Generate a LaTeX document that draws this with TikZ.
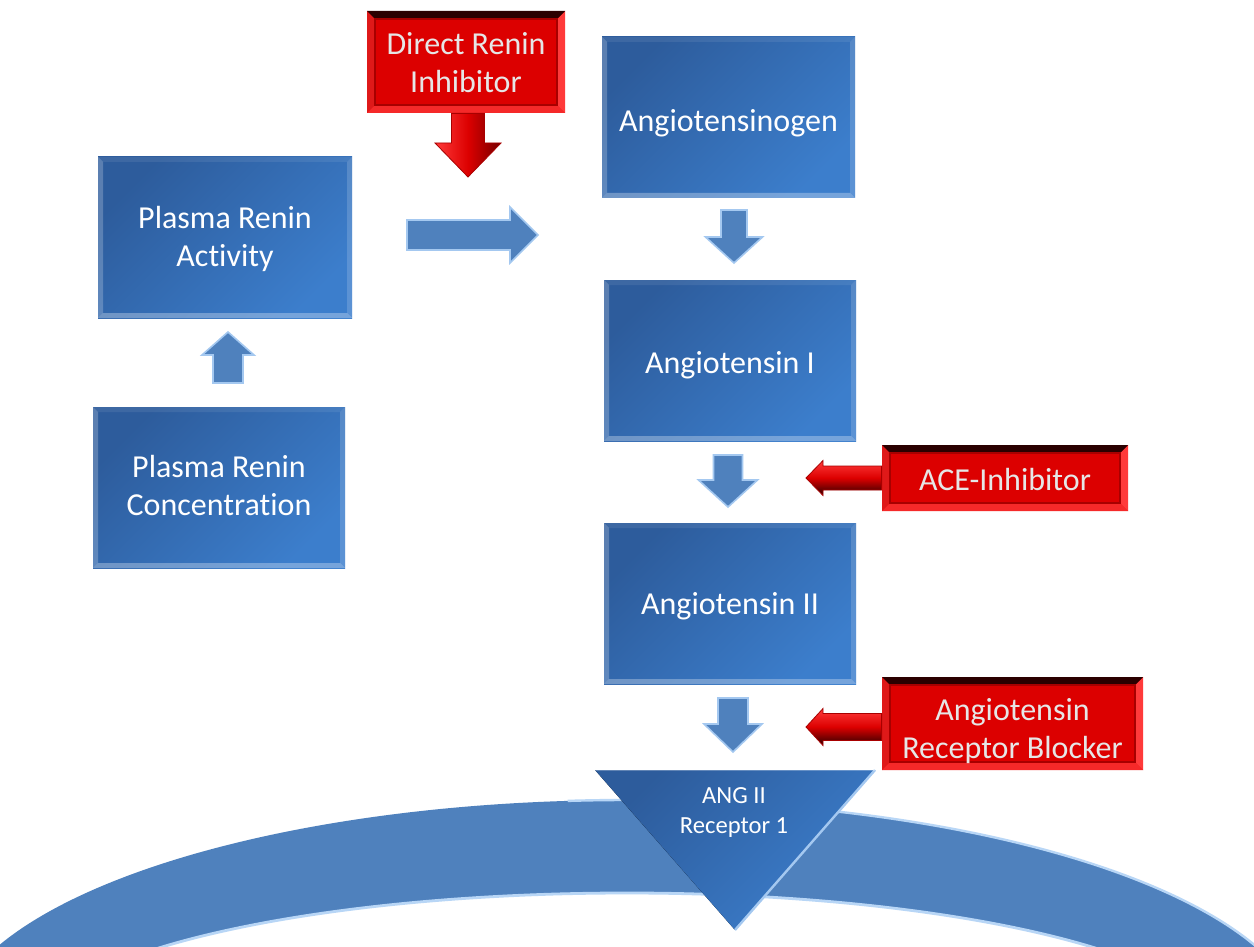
\documentclass[tikz,border=0pt]{standalone}
\usepackage{fontspec}
\setmainfont{Carlito}[Ligatures={NoCommon}]
\usetikzlibrary{calc}
\definecolor{boxdark}{HTML}{2D5C9C}
\definecolor{boxlight}{HTML}{3C7ECC}
\definecolor{arrowblue}{HTML}{4F81BD}
\definecolor{arrowedge}{HTML}{A4C8F0}
\definecolor{bandblue}{HTML}{4F81BD}
\definecolor{bandedge}{HTML}{B8D6F6}
\definecolor{redmain}{HTML}{DC0000}
\definecolor{reddark}{HTML}{2A0000}
\definecolor{redlight}{HTML}{FF3A3A}
\definecolor{redline}{HTML}{A80000}
\definecolor{redtext}{HTML}{E6E6E6}

% block arrow: #1 style, #2 tail, #3 tip, #4 shaft half width, #5 head half width, #6 head length
\newcommand\blockarrow[6]{%
  \coordinate (ba-h) at ($(#3)!#6!(#2)$);
  \path[#1] ($(#2)!#4!90:(#3)$) -- ($(ba-h)!#4!90:(#3)$) -- ($(ba-h)!#5!90:(#3)$) -- (#3)
    -- ($(ba-h)!#5!-90:(#3)$) -- ($(ba-h)!#4!-90:(#3)$) -- ($(#2)!#4!-90:(#3)$) -- cycle;
}
% bevel inside a path picture: #1 width, #2 left, #3 bottom, #4 right, #5 top
\newcommand\mybevel[5]{%
  \coordinate (bnw) at (path picture bounding box.north west);
  \coordinate (bne) at (path picture bounding box.north east);
  \coordinate (bsw) at (path picture bounding box.south west);
  \coordinate (bse) at (path picture bounding box.south east);
  \coordinate (inw) at ([shift={(#1,-#1)}]bnw);
  \coordinate (ine) at ([shift={(-#1,-#1)}]bne);
  \coordinate (isw) at ([shift={(#1,#1)}]bsw);
  \coordinate (ise) at ([shift={(-#1,#1)}]bse);
  \fill[#2] (bnw)--(inw)--(isw)--(bsw)--cycle;
  \fill[#3] (bsw)--(isw)--(ise)--(bse)--cycle;
  \fill[#4] (bse)--(ise)--(ine)--(bne)--cycle;
  \fill[#5] (bne)--(ine)--(inw)--(bnw)--cycle;
}
% lowered centred text block (keeps its box size, so the node does not re-centre it)
\newcommand\lowtxt[2]{\raisebox{-#1}[\height][\depth]{\begin{tabular}{@{}c@{}}#2\end{tabular}}}

\tikzset{
  bluebox/.style={rectangle, inner sep=0pt, top color=boxdark, bottom color=boxlight,
    shading angle=45, text=white, font=\fontsize{16}{19}\selectfont,
    minimum width=126.5pt, minimum height=80.5pt,
    path picture={\mybevel{2.5pt}{white,opacity=0.22}{white,opacity=0.3}{white,opacity=0.16}{white,opacity=0.08}}},
  redbox/.style={rectangle, inner sep=0pt, fill=redmain, text=redtext,
    font=\fontsize{16}{19}\selectfont,
    path picture={\mybevel{4pt}{redmain!90!white}{redlight!70!redmain}{redlight}{reddark}
      \draw[redline, line width=0.6pt] (inw) rectangle (ise);}},
  bluearrow/.style={fill=arrowblue, draw=arrowedge, line width=0.8pt, line join=miter},
  redarrowh/.style={top color=redlight, bottom color=reddark, middle color=redmain, draw=redline, line width=0.4pt},
  redarrowv/.style={left color=redlight, right color=redline!70!black, middle color=redmain, draw=redline, line width=0.4pt},
  receptor/.style={text=white, align=center, font=\fontsize{12.3}{15}\selectfont, inner sep=0pt}
}

\begin{document}
\begin{tikzpicture}[x=0.5pt, y=-0.5pt]
\useasboundingbox (0,0) rectangle (1254,947);
\fill[white] (0,0) rectangle (1254,947);

% membrane band
\begin{scope}
  \clip (0,0) rectangle (1254,947);
  \fill[bandblue, even odd rule] (627,1036) ellipse [x radius=340pt, y radius=118pt]
                                 (627,1036) ellipse [x radius=297pt, y radius=71.5pt];
  \draw[bandedge, line width=1.4pt] (627,1036) ellipse [x radius=297pt, y radius=71.5pt];
  \draw[bandedge, line width=1.2pt] (627,1036) ++(95:340pt and 118pt)
      arc [start angle=95, end angle=-10, x radius=340pt, y radius=118pt];
\end{scope}

% blue boxes
\node[bluebox, minimum width=127pt] (pra) at (225,237.5) {\lowtxt{1pt}{Plasma Renin\\Activity}};
\node[bluebox, minimum width=126pt] (prc) at (219,487.5) {\lowtxt{0.5pt}{Plasma Renin\\Concentration}};
\node[bluebox] (agen) at (728.5,117.5) {\lowtxt{3pt}{Angiotensinogen}};
\node[bluebox, minimum width=126pt] (ang1) at (730,360.5) {\lowtxt{2.5pt}{Angiotensin I}};
\node[bluebox, minimum width=126pt] (ang2) at (730,603.5) {\lowtxt{1.5pt}{Angiotensin II}};

% red boxes
\node[redbox, minimum width=99pt, minimum height=51pt] (dri) at (466,62) {\lowtxt{2pt}{Direct Renin\\Inhibitor}};
\node[redbox, minimum width=123pt, minimum height=33pt] (ace) at (1005,478) {\lowtxt{2.5pt}{ACE-Inhibitor}};
\node[redbox, minimum width=130.5pt, minimum height=46.5pt] (arb) at (1012.5,723.5) {\lowtxt{4pt}{Angiotensin\\Receptor Blocker}};

% receptor triangle
\coordinate (trl) at (595,770);
\coordinate (trr) at (875,770);
\coordinate (trt) at (735,930);
\fill[top color=boxdark, bottom color=boxlight, shading angle=45] (trl) -- (trr) -- (trt) -- cycle;
\draw[arrowedge, line width=1.2pt] (trr) -- (trt);
\draw[white, opacity=0.25, line width=0.6pt] (trl) -- (trr);
\node[receptor] (rec) at (734,812) {ANG II\\Receptor 1};

% blue block arrows
\coordinate (a1t) at (228,383); \coordinate (a1h) at (228,332);
\blockarrow{bluearrow}{a1t}{a1h}{7.5pt}{13pt}{11.5pt}
\coordinate (a2t) at (407,235); \coordinate (a2h) at (538,235);
\blockarrow{bluearrow}{a2t}{a2h}{7.5pt}{14pt}{14pt}
\coordinate (a3t) at (734,210); \coordinate (a3h) at (734,263);
\blockarrow{bluearrow}{a3t}{a3h}{6.5pt}{14.25pt}{13pt}
\coordinate (a4t) at (728,455); \coordinate (a4h) at (728,507);
\blockarrow{bluearrow}{a4t}{a4h}{7.25pt}{14.75pt}{13.5pt}
\coordinate (a5t) at (733,698); \coordinate (a5h) at (733,752);
\blockarrow{bluearrow}{a5t}{a5h}{7.5pt}{14.5pt}{14pt}

% red block arrows
\coordinate (r1h) at (468,177);
\coordinate (r1t) at (dri.south -| r1h);
\blockarrow{redarrowv}{r1t}{r1h}{8.25pt}{16.5pt}{17pt}
\coordinate (r2h) at (806,478);
\blockarrow{redarrowh}{ace.west}{r2h}{6pt}{8.75pt}{8.5pt}
\coordinate (r3h) at (806,727);
\coordinate (r3t) at (arb.west |- r3h);
\blockarrow{redarrowh}{r3t}{r3h}{6.75pt}{9.25pt}{8.5pt}
\end{tikzpicture}
\end{document}
